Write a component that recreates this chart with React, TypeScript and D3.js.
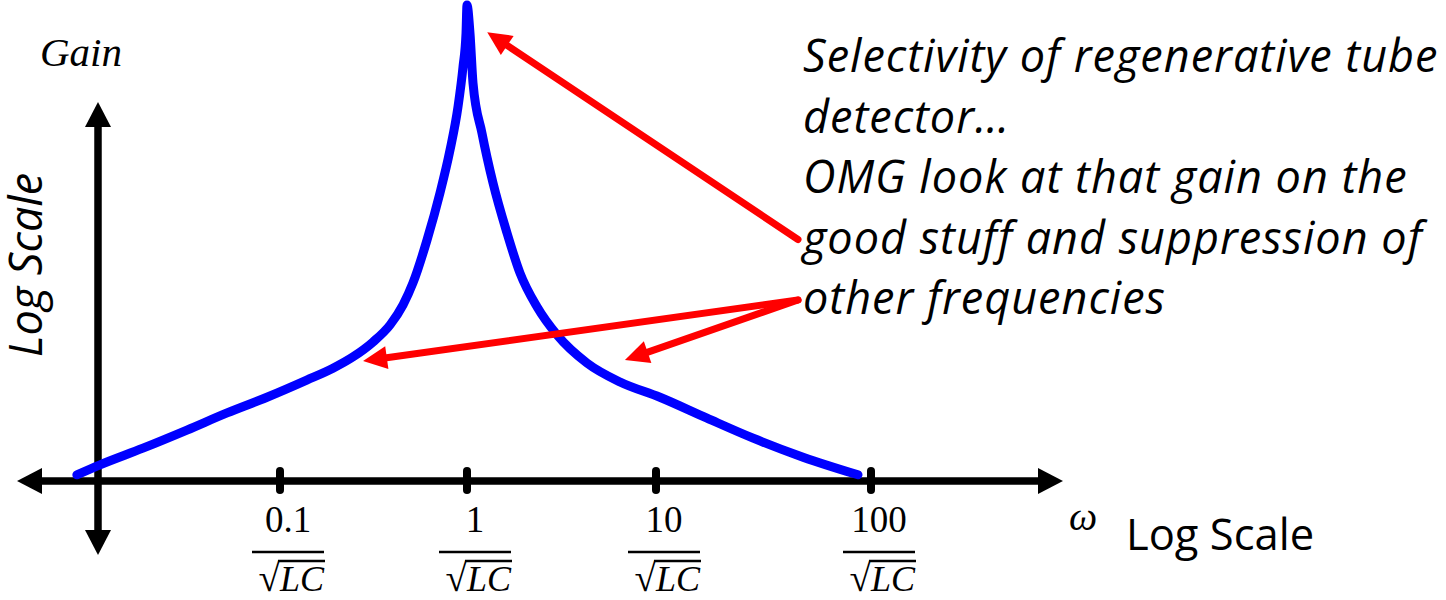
import React from "react";
import * as d3 from "d3";

// Resonance curve of a regenerative detector: angular frequency (log) vs gain (dB)
const OMEGA = [
  0.0082, 0.0109, 0.0185, 0.0318, 0.0521, 0.0852, 0.139, 0.192, 0.246, 0.314,
  0.388, 0.455, 0.514, 0.611, 0.717, 0.811, 0.895, 0.952, 0.988, 1.0,
  1.037, 1.076, 1.2, 1.373, 1.628, 1.907, 2.346, 2.994, 4.31, 6.45,
  10.43, 17.27, 28.3, 48.3, 87.0,
];
const GAIN_DB = [
  1.3, 3.4, 6.9, 10.7, 14.3, 17.6, 21.2, 23.7, 26.1, 29.2,
  32.8, 37.0, 41.6, 50.6, 60.5, 69.5, 78.6, 87.0, 94.1, 100,
  94.1, 83.6, 73.1, 62.6, 52.1, 43.7, 36.6, 30.7, 24.8, 20.8,
  17.6, 13.2, 9.0, 5.0, 1.3,
];

// Frequency ticks, in units of 1/sqrt(LC)
const TICK_VALUES = [0.1, 1, 10, 100];
const TICK_NUMERATORS = ["0.1", "1", "10", "100"];

// Callout text and the curve points its arrows point at
const NOTE_LINES = [
  "Selectivity of regenerative tube",
  "detector…",
  "OMG look at that gain on the",
  "good stuff and suppression of",
  "other frequencies",
];
const POINTER_OMEGA = [1.28, 0.278, 6.85];
const POINTER_GAIN = [94.3, 25.2, 25.4];
const POINTER_FROM_LINE = [3, 4, 4];

const W = 1446;
const H = 600;

const MATH_FONT = "'Liberation Serif', 'Times New Roman', serif";
const TEXT_FONT = "'Open Sans', 'Noto Sans', sans-serif";

function arrowParts(x1: number, y1: number, x2: number, y2: number, len: number, hw: number) {
  const dx = x2 - x1;
  const dy = y2 - y1;
  const d = Math.hypot(dx, dy);
  const ux = dx / d;
  const uy = dy / d;
  const bx = x2 - ux * len;
  const by = y2 - uy * len;
  const nx = -uy;
  const ny = ux;
  return {
    shaft: { x1, y1, x2: bx + ux * 2, y2: by + uy * 2 },
    head: `${x2},${y2} ${bx + nx * hw},${by + ny * hw} ${bx - nx * hw},${by - ny * hw}`,
  };
}

export default function App() {
  const x = d3.scaleLog().domain(TICK_VALUES).range([280, 467, 656, 871]);
  const y = d3.scaleLinear().domain([0, 100]).range([481, 5]);

  const curve = d3
    .line<number>()
    .x((_, i) => x(OMEGA[i]))
    .y((d) => y(d))
    .curve(d3.curveMonotoneX);

  const axisX = 98; // vertical axis position
  const axisY = y(0);
  const axisLeft = 17;
  const axisRight = 1063;
  const axisTop = 102;
  const axisBottom = 555;
  const headLen = 25;
  const headHalf = 13;

  const noteX = 803;
  const noteBase = 72;
  const noteStep = 60.5;

  return (
    <svg
      width={W}
      height={H}
      viewBox={`0 0 ${W} ${H}`}
      style={{ position: "absolute", left: 0, top: 0, background: "#fff" }}
    >
      {/* axes */}
      <g fill="#000" stroke="#000">
        <line
          x1={axisLeft + headLen - 2}
          x2={axisRight - headLen + 2}
          y1={axisY}
          y2={axisY}
          strokeWidth={7.5}
        />
        <line
          x1={axisX}
          x2={axisX}
          y1={axisTop + headLen - 2}
          y2={axisBottom - headLen + 2}
          strokeWidth={7.5}
        />
        <polygon
          stroke="none"
          points={`${axisLeft},${axisY} ${axisLeft + headLen},${axisY - headHalf} ${axisLeft + headLen},${axisY + headHalf}`}
        />
        <polygon
          stroke="none"
          points={`${axisRight},${axisY} ${axisRight - headLen},${axisY - headHalf} ${axisRight - headLen},${axisY + headHalf}`}
        />
        <polygon
          stroke="none"
          points={`${axisX},${axisTop} ${axisX - headHalf},${axisTop + headLen} ${axisX + headHalf},${axisTop + headLen}`}
        />
        <polygon
          stroke="none"
          points={`${axisX},${axisBottom} ${axisX - headHalf},${axisBottom - headLen} ${axisX + headHalf},${axisBottom - headLen}`}
        />
        {TICK_VALUES.map((v) => (
          <line
            key={v}
            x1={x(v)}
            x2={x(v)}
            y1={axisY - 10}
            y2={axisY + 9}
            strokeWidth={8}
            strokeLinecap="round"
          />
        ))}
      </g>

      {/* tick labels: n / sqrt(LC) */}
      {TICK_VALUES.map((v, i) => {
        const cx = x(v) + 8;
        return (
          <g key={v} fill="#000">
            <text
              x={cx}
              y={532}
              textAnchor="middle"
              fontFamily={MATH_FONT}
              fontSize={37}
            >
              {TICK_NUMERATORS[i]}
            </text>
            <line x1={cx - 36} x2={cx + 36} y1={552} y2={552} stroke="#000" strokeWidth={2.6} />
            <text x={cx - 8} y={591} textAnchor="end" fontFamily={MATH_FONT} fontSize={39}>
              √
            </text>
            <line x1={cx - 10} x2={cx + 37} y1={561} y2={561} stroke="#000" strokeWidth={2.4} />
            <text
              x={cx - 8}
              y={591}
              textAnchor="start"
              fontFamily={MATH_FONT}
              fontStyle="italic"
              fontSize={36}
            >
              LC
            </text>
          </g>
        );
      })}

      {/* axis titles */}
      <text x={40} y={66} fontFamily={MATH_FONT} fontStyle="italic" fontSize={41} fill="#000">
        Gain
      </text>
      <text
        transform={`translate(42, 265) rotate(-90)`}
        textAnchor="middle"
        fontFamily={TEXT_FONT}
        fontStyle="italic"
        fontSize={45}
        fill="#000"
      >
        Log Scale
      </text>
      <text x={1069} y={530} fontFamily={MATH_FONT} fontStyle="italic" fontSize={40} fill="#000">
        ω
      </text>
      <text x={1126} y={550} fontFamily={TEXT_FONT} fontSize={43.5} fill="#000">
        Log Scale
      </text>

      {/* gain curve */}
      <path
        d={curve(GAIN_DB) ?? ""}
        fill="none"
        stroke="#0000ff"
        strokeWidth={9}
        strokeLinecap="round"
        strokeLinejoin="round"
      />

      {/* callout */}
      <g fontFamily={TEXT_FONT} fontStyle="italic" fontSize={45} letterSpacing={1} fill="#000">
        {NOTE_LINES.map((t, i) => (
          <text key={i} x={noteX} y={noteBase + i * noteStep}>
            {t}
          </text>
        ))}
      </g>
      <g fill="#ff0000" stroke="#ff0000">
        {POINTER_OMEGA.map((w, i) => {
          const sx = noteX - 5;
          const sy = noteBase + POINTER_FROM_LINE[i] * noteStep - 14;
          const a = arrowParts(sx, sy, x(w), y(POINTER_GAIN[i]), 24, 11.5);
          return (
            <g key={i}>
              <line {...a.shaft} strokeWidth={7} strokeLinecap="round" />
              <polygon points={a.head} stroke="none" />
            </g>
          );
        })}
      </g>
    </svg>
  );
}
